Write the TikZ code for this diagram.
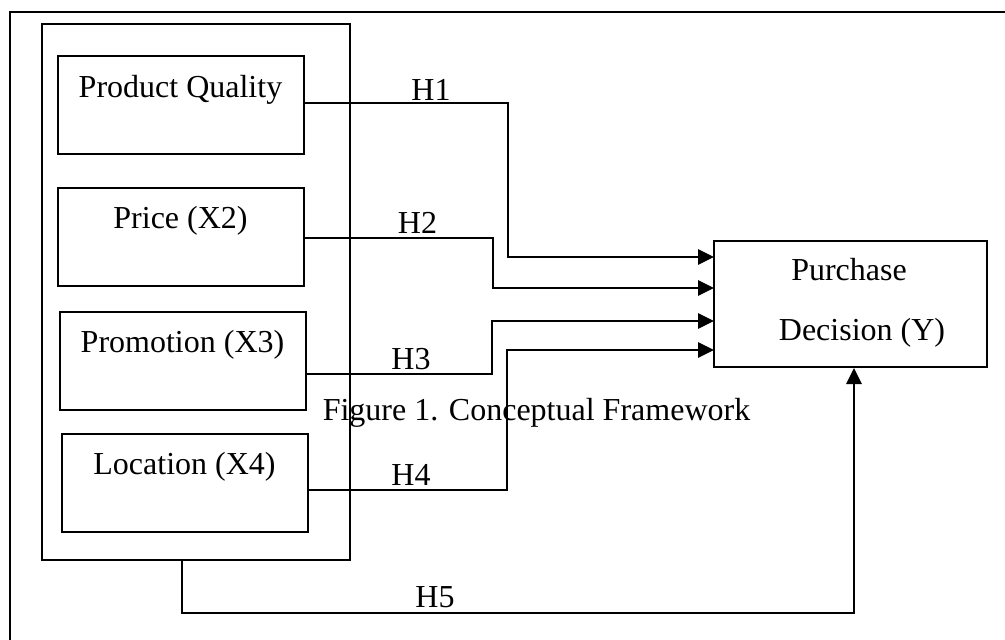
\documentclass[tikz,border=0pt]{standalone}
\usepackage{fontspec}
\setmainfont{Liberation Serif}
\usetikzlibrary{arrows.meta,fit}
\begin{document}
\begin{tikzpicture}[x=0.75pt,y=-0.75pt,
  boxstyle/.style={draw,line width=1.5pt,inner sep=0pt},
  txt/.style={font=\fontsize{24pt}{28pt}\selectfont,inner sep=0pt,anchor=base},
  conn/.style={line width=1.3pt},
  arr/.style={conn,-{Triangle[length=12pt,width=11.5pt]}}]
\useasboundingbox (0,0) rectangle (1005,639);
% outer frame (only top and left edges visible)
\coordinate (ftr) at (1010,12);
\coordinate (ftl) at (10,12);
\coordinate (fbl) at (10,645);
\draw[line width=1.5pt] (ftr) -- (ftl) -- (fbl);
% group box
\node[boxstyle,fit={(42,24) (350,560)}] (grp) {};
% variable boxes
\node[boxstyle,fit={(58,56) (304,154)}] (pq) {};
\node[boxstyle,fit={(58,188) (304,286)}] (pr) {};
\node[boxstyle,fit={(60,312) (306,410)}] (pm) {};
\node[boxstyle,fit={(62,434) (308,532)}] (lc) {};
\node[boxstyle,fit={(714,241) (987,367)}] (pd) {};
% box texts
\node[txt] (tpq) at (180.5,97) {Product Quality};
\node[txt] (tpr) at (180.5,228) {Price (X2)};
\node[txt] (tpm) at (182.5,352) {Promotion (X3)};
\node[txt] (tlc) at (184.5,474) {Location (X4)};
\node[txt] (tpd1) at (849,280) {Purchase};
\node[txt] (tpd2) at (862,340) {Decision (Y)};
% connector bend points
\coordinate (b1) at (508,103);
\coordinate (e1) at (714,257);
\coordinate (b2) at (493,238);
\coordinate (e2) at (714,288);
\coordinate (b3) at (492,374);
\coordinate (e3) at (714,321);
\coordinate (b4) at (507,490);
\coordinate (e4) at (714,350);
\coordinate (b5) at (182,613);
\coordinate (c5) at (854,613);
% connectors
\draw[arr] (pq.east |- b1) -- (b1) |- (e1);
\draw[arr] (pr.east |- b2) -- (b2) |- (e2);
\draw[arr] (pm.east |- b3) -- (b3) |- (e3);
\draw[arr] (lc.east |- b4) -- (b4) |- (e4);
\draw[arr] (grp.south -| b5) -- (b5) -- (c5) -- (pd.south -| c5);
% hypothesis labels
\node[txt] (h1) at (431,100) {H1};
\node[txt] (h2) at (417.5,233) {H2};
\node[txt] (h3) at (411,369) {H3};
\node[txt] (h4) at (411,485) {H4};
\node[txt] (h5) at (435,607) {H5};
% caption
\node[txt] (cap) at (536.5,420) {Figure 1. Conceptual Framework};
\end{tikzpicture}
\end{document}
